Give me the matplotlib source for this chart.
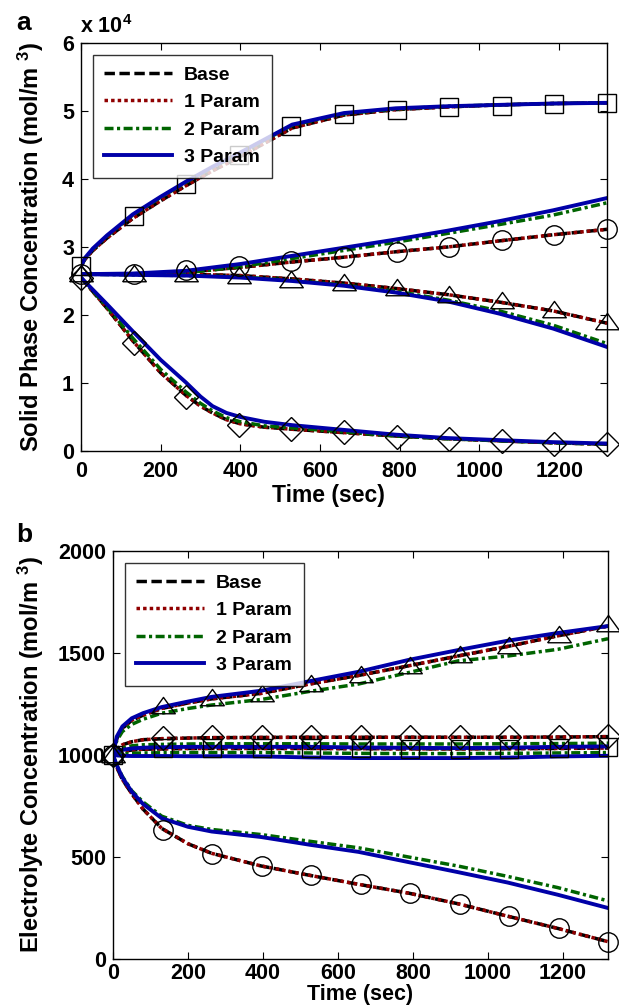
import numpy as np
import matplotlib
matplotlib.use("Agg")
import matplotlib.pyplot as plt

plt.rcParams['font.family'] = ['Liberation Sans', 'DejaVu Sans']
plt.rcParams['font.weight'] = 'bold'
plt.rcParams['axes.labelweight'] = 'bold'
plt.rcParams['mathtext.fontset'] = 'custom'
plt.rcParams['mathtext.rm'] = 'Liberation Sans:bold'
plt.rcParams['mathtext.bf'] = 'Liberation Sans:bold'
plt.rcParams['mathtext.default'] = 'rm'

# ---------------- panel a : solid phase concentration (x 1e4 mol/m3) ----------------
t_sq = [0, 10, 30, 65, 130, 200, 263, 330, 400, 530, 660, 790, 920, 1050, 1185, 1320]
sq_base = [2.72, 2.82, 2.95, 3.13, 3.42, 3.68, 3.90, 4.12, 4.33, 4.75, 4.94, 5.02, 5.06, 5.09, 5.11, 5.12]
sq_p2 = [2.72, 2.83, 2.97, 3.16, 3.47, 3.73, 3.95, 4.17, 4.38, 4.79, 4.96, 5.03, 5.07, 5.09, 5.11, 5.12]
sq_p3 = [2.72, 2.84, 2.98, 3.17, 3.48, 3.74, 3.96, 4.18, 4.39, 4.80, 4.97, 5.04, 5.07, 5.09, 5.11, 5.12]

t_ct = [0, 130, 263, 400, 530, 660, 790, 920, 1050, 1185, 1320]
ci_base = [2.60, 2.60, 2.63, 2.70, 2.78, 2.85, 2.93, 3.00, 3.09, 3.18, 3.26]
ci_p2 = [2.60, 2.60, 2.62, 2.71, 2.83, 2.95, 3.07, 3.20, 3.33, 3.47, 3.65]
ci_p3 = [2.60, 2.61, 2.65, 2.75, 2.87, 2.99, 3.11, 3.24, 3.38, 3.54, 3.72]
tr_base = [2.60, 2.60, 2.60, 2.58, 2.53, 2.47, 2.39, 2.30, 2.19, 2.06, 1.88]
tr_p2 = [2.60, 2.59, 2.58, 2.56, 2.51, 2.44, 2.35, 2.22, 2.06, 1.85, 1.58]
tr_p3 = [2.60, 2.59, 2.58, 2.55, 2.50, 2.43, 2.33, 2.20, 2.02, 1.80, 1.53]

t_di = [0, 65, 130, 200, 263, 300, 330, 365, 400, 460, 530, 660, 790, 920, 1050, 1185, 1320]
di_base = [2.55, 2.10, 1.62, 1.15, 0.82, 0.66, 0.56, 0.46, 0.40, 0.35, 0.32, 0.27, 0.22, 0.18, 0.15, 0.12, 0.10]
di_p2 = [2.55, 2.12, 1.66, 1.20, 0.87, 0.70, 0.59, 0.49, 0.43, 0.37, 0.34, 0.28, 0.22, 0.18, 0.15, 0.12, 0.10]
di_p3 = [2.55, 2.16, 1.76, 1.34, 1.01, 0.80, 0.66, 0.56, 0.50, 0.43, 0.38, 0.31, 0.24, 0.19, 0.16, 0.13, 0.11]

t_mark = [0, 132, 264, 396, 528, 660, 792, 924, 1056, 1188, 1320]
a_sq_mk = [2.72, 3.45, 3.92, 4.35, 4.78, 4.95, 5.02, 5.06, 5.08, 5.11, 5.12]
a_ci_mk = [2.60, 2.60, 2.66, 2.72, 2.80, 2.85, 2.92, 3.00, 3.10, 3.18, 3.27]
a_tr_mk = [2.60, 2.60, 2.60, 2.57, 2.52, 2.47, 2.39, 2.30, 2.20, 2.07, 1.89]
a_di_mk = [2.55, 1.59, 0.79, 0.38, 0.33, 0.28, 0.21, 0.18, 0.15, 0.11, 0.10]

# ---------------- panel b : electrolyte concentration (mol/m3) ----------------
t_b = [0, 10, 25, 50, 80, 130, 200, 263, 395, 525, 655, 788, 922, 1052, 1186, 1320]
btr_base = [1000, 1080, 1130, 1170, 1195, 1228, 1255, 1275, 1302, 1348, 1390, 1437, 1486, 1532, 1584, 1632]
btr_p2 = [1000, 1070, 1115, 1150, 1175, 1205, 1228, 1245, 1272, 1312, 1348, 1404, 1462, 1485, 1518, 1570]
btr_p3 = [1000, 1090, 1140, 1180, 1205, 1235, 1262, 1285, 1315, 1362, 1408, 1466, 1515, 1560, 1598, 1632]
bci_base = [1000, 940, 880, 810, 735, 640, 565, 518, 456, 410, 366, 323, 270, 210, 150, 85]
bci_p2 = [1000, 950, 895, 825, 770, 700, 655, 635, 610, 577, 545, 500, 455, 405, 350, 285]
bci_p3 = [1000, 950, 890, 820, 760, 690, 648, 625, 598, 560, 525, 475, 425, 375, 315, 250]
bdi_base = [1000, 1030, 1050, 1065, 1075, 1080, 1083, 1085, 1086, 1087, 1087, 1087, 1087, 1087, 1088, 1090]
bdi_p2 = [1000, 1020, 1035, 1045, 1050, 1052, 1054, 1055, 1055, 1055, 1054, 1054, 1054, 1055, 1056, 1058]
bdi_p3 = [1000, 1015, 1025, 1032, 1036, 1038, 1040, 1040, 1040, 1040, 1037, 1035, 1034, 1036, 1040, 1042]
bsq_base = [1000, 1010, 1018, 1024, 1028, 1030, 1032, 1032, 1032, 1032, 1031, 1030, 1030, 1031, 1032, 1034]
bsq_p2 = [1000, 1003, 1006, 1008, 1010, 1011, 1012, 1012, 1012, 1010, 1008, 1007, 1007, 1008, 1010, 1012]
bsq_p3 = [1000, 998, 996, 995, 995, 995, 994, 994, 993, 988, 985, 985, 985, 987, 993, 996]

b_tr_mk = [1000, 1240, 1280, 1300, 1348, 1390, 1437, 1488, 1534, 1586, 1640]
b_ci_mk = [1000, 631, 515, 456, 410, 366, 323, 269, 209, 150, 85]
b_di_mk = [1000, 1085, 1090, 1088, 1087, 1087, 1087, 1087, 1087, 1088, 1095]
b_sq_mk = [1000, 1032, 1035, 1035, 1033, 1032, 1030, 1030, 1030, 1032, 1040]

labels = ['Base', '1 Param', '2 Param', '3 Param']
colors = ['black', '#900000', '#006400', '#0000A8']
styles = [dict(dashes=(3, 1.3)), dict(dashes=(1, 0.9)),
          dict(dashes=(2.6, 1.0, 0.9, 1.0)), dict(linestyle='-')]
widths = [2.5, 2.5, 2.5, 2.8]

# wide, flat triangle like the MATLAB one
tri = [(-1.3, -0.8), (1.3, -0.8), (0, 1.0), (-1.3, -0.8)]
mk_size = {'s': 13, 'o': 14, 'D': 12.5}

fig = plt.figure(figsize=(6.19, 10.06), dpi=100)
W, H = 619.0, 1006.0
ax1 = fig.add_axes([81 / W, 1 - 451 / H, 526 / W, 408 / H])
ax2 = fig.add_axes([113 / W, 1 - 959 / H, 495 / W, 408 / H])


def draw(ax, groups, marks):
    # groups: list of (t, base, p2, p3); 1 Param sits on top of Base
    for k in range(4):
        for i, (t, base, p2, p3) in enumerate(groups):
            y = [base, base, p2, p3][k]
            ax.plot(t, y, color=colors[k], lw=widths[k],
                    label=labels[k] if i == 0 else None, **styles[k])
    for mk, vals in marks:
        if mk == '^':
            ax.plot(t_mark, vals, linestyle='none', marker=tri, ms=17,
                    mfc='none', mec='black', mew=1.0, clip_on=False, zorder=5)
        else:
            ax.plot(t_mark, vals, linestyle='none', marker=mk, ms=mk_size[mk],
                    mfc='none', mec='black', mew=1.0, clip_on=False, zorder=5)


draw(ax1, [(t_sq, sq_base, sq_p2, sq_p3), (t_ct, ci_base, ci_p2, ci_p3),
           (t_ct, tr_base, tr_p2, tr_p3), (t_di, di_base, di_p2, di_p3)],
     [('s', a_sq_mk), ('o', a_ci_mk), ('^', a_tr_mk), ('D', a_di_mk)])
draw(ax2, [(t_b, btr_base, btr_p2, btr_p3), (t_b, bci_base, bci_p2, bci_p3),
           (t_b, bdi_base, bdi_p2, bdi_p3), (t_b, bsq_base, bsq_p2, bsq_p3)],
     [('^', b_tr_mk), ('o', b_ci_mk), ('D', b_di_mk), ('s', b_sq_mk)])

for ax in (ax1, ax2):
    ax.set_xlim(0, 1320)
    ax.set_xticks([0, 200, 400, 600, 800, 1000, 1200])
    ax.tick_params(direction='in', top=True, right=True, length=5, width=0.8,
                   labelsize=15.5)
    ax.tick_params(axis='y', pad=5)
    for s in ax.spines.values():
        s.set_linewidth(1.0)
    leg = ax.legend(loc='upper left', fontsize=14, frameon=True, fancybox=False,
                    edgecolor='black', handlelength=3.5, labelspacing=0.5,
                    borderaxespad=0.6, handletextpad=0.6, borderpad=0.6)
    leg.get_frame().set_linewidth(1.0)
    leg.set_zorder(10)

ax1.tick_params(axis='x', pad=7)
ax2.tick_params(axis='x', pad=3)

ax1.set_ylim(0, 6)
ax1.set_yticks([0, 1, 2, 3, 4, 5, 6])
ax1.set_ylabel('Solid Phase Concentration (mol/m $^{3}$)', fontsize=17)
ax1.yaxis.set_label_coords(-0.066, 0.5)
ax1.set_xlabel('Time (sec)', fontsize=16.5)
ax1.xaxis.set_label_coords(0.47, -0.082)

ax2.set_ylim(0, 2000)
ax2.set_yticks([0, 500, 1000, 1500, 2000])
ax2.set_ylabel('Electrolyte Concentration (mol/m $^{3}$)', fontsize=17)
ax2.yaxis.set_label_coords(-0.135, 0.5)
ax2.set_xlabel('Time (sec)', fontsize=15.5)
ax2.xaxis.set_label_coords(0.5, -0.062)

fig.text(16 / W, 1 - 23 / H, 'a', fontsize=19, ha='left', va='center')
fig.text(16 / W, 1 - 535 / H, 'b', fontsize=19, ha='left', va='center')
fig.text(80 / W, 1 - 27 / H, 'x 10$^{4}$', fontsize=15.5, ha='left', va='center')

fig.savefig('out.png', dpi=100)
